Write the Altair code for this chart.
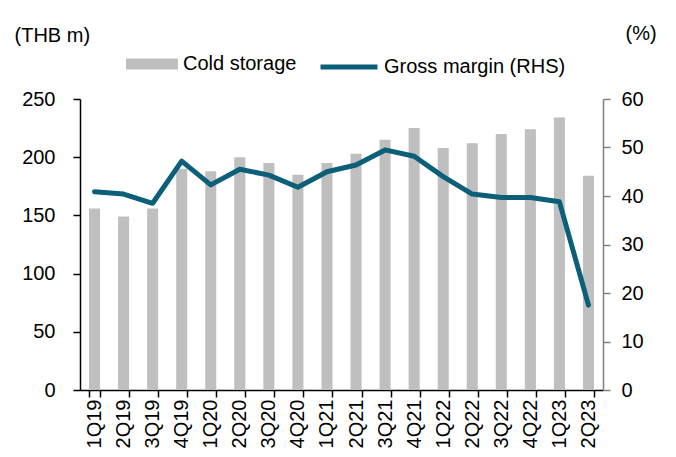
import altair as alt
import pandas as pd

quarters = ["1Q19", "2Q19", "3Q19", "4Q19", "1Q20", "2Q20", "3Q20", "4Q20",
            "1Q21", "2Q21", "3Q21", "4Q21", "1Q22", "2Q22", "3Q22", "4Q22",
            "1Q23", "2Q23"]
cold_storage = [156, 149, 156, 190, 188, 200, 195, 185,
                195, 203, 215, 225, 208, 212, 220, 224,
                234, 184]
gross_margin = [40.9, 40.4, 38.5, 47.2, 42.3, 45.5, 44.3, 41.8,
                45.0, 46.4, 49.5, 48.2, 44.0, 40.4, 39.7, 39.7,
                38.8, 17.5]
left_ticks = [0, 50, 100, 150, 200, 250]
right_ticks = [0, 10, 20, 30, 40, 50, 60]

df = pd.DataFrame({"quarter": quarters, "cold": cold_storage, "gm": gross_margin})

FONT = "Liberation Sans"
FS = 20

xenc = alt.X(
    "quarter:N", sort=quarters, title=None,
    scale=alt.Scale(paddingInner=0.62, paddingOuter=0.31),
    axis=alt.Axis(labelAngle=-90, labelFontSize=FS, labelFont=FONT, labelColor="black",
                  labelPadding=2, tickBand="extent", tickSize=7, tickColor="black",
                  domainColor="black", tickWidth=1.5, domainWidth=1.5, grid=False,
                  labelBaseline="middle", labelAlign="right", labelLimit=200),
)

bars = alt.Chart(df).transform_calculate(s1="'Cold storage'").mark_bar(color="#bfbfbf").encode(
    x=xenc,
    y=alt.Y("cold:Q", scale=alt.Scale(domain=[0, 250], nice=False),
            axis=alt.Axis(values=left_ticks, title="(THB m)", titleAngle=0, titleAlign="left",
                          titleBaseline="middle", titleX=-66, titleY=-64, titleFontSize=FS,
                          titleFont=FONT, titleFontWeight="normal", titleColor="black",
                          labelFontSize=FS, labelFont=FONT, labelColor="black", labelPadding=18,
                          tickSize=7, tickColor="black", domainColor="black", tickWidth=1.5,
                          domainWidth=1.5, grid=False)),
    color=alt.Color("s1:N", scale=alt.Scale(domain=["Cold storage"], range=["#bfbfbf"]),
                    legend=alt.Legend(title=None, orient="none", legendX=46, legendY=-61,
                                      symbolType="M-1,-0.21H1V0.21H-1Z", symbolSize=2704,
                                      symbolStrokeWidth=0, labelFontSize=FS, labelFont=FONT,
                                      labelColor="black", labelOffset=5, padding=0,
                                      labelLimit=400)),
)

line = alt.Chart(df).transform_calculate(s2="'Gross margin (RHS)'").mark_line(
    strokeWidth=5, strokeCap="round", strokeJoin="round").encode(
    x=alt.X("quarter:N", sort=quarters),
    y=alt.Y("gm:Q", scale=alt.Scale(domain=[0, 60], nice=False),
            axis=alt.Axis(orient="right", values=right_ticks, title="(%)", titleAngle=0,
                          titleAlign="left", titleBaseline="middle", titleX=22, titleY=-66,
                          titleFontSize=FS, titleFont=FONT, titleFontWeight="normal",
                          titleColor="black", labelFontSize=FS, labelFont=FONT,
                          labelColor="black", labelPadding=11, tickSize=7, tickColor="#808080",
                          domainColor="#808080", tickWidth=1.5, domainWidth=1.5, grid=False)),
    stroke=alt.Stroke("s2:N", scale=alt.Scale(domain=["Gross margin (RHS)"], range=["#0b5f78"]),
                      legend=alt.Legend(title=None, orient="none", legendX=238, legendY=-63,
                                        symbolType="stroke", symbolSize=3249,
                                        symbolStrokeWidth=5, labelFontSize=FS, labelFont=FONT,
                                        labelColor="black", labelOffset=4, padding=0,
                                        labelLimit=400)),
)

chart = alt.layer(bars, line).resolve_scale(y="independent").properties(
    width=523, height=291,
    autosize=alt.AutoSizeParams(type="none"),
    padding={"left": 72, "top": 91, "right": 65, "bottom": 59},
).configure_view(stroke=None)

chart.save("out.html", embed_options={"renderer": "svg", "actions": False})
